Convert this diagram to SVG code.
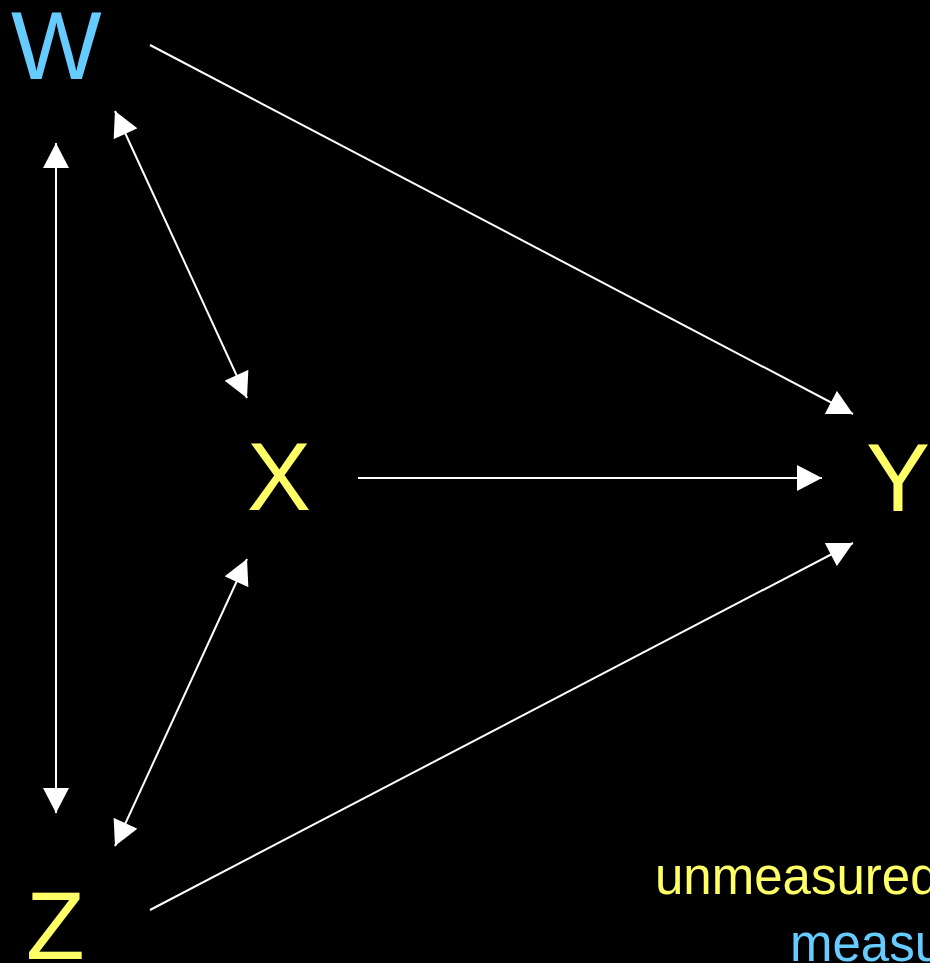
<svg xmlns="http://www.w3.org/2000/svg" width="930" height="963" viewBox="0 0 930 963">
<style>
.bg{fill:#000}
.lbl{font-family:"Liberation Sans",Arial,sans-serif;font-size:96px}
.small{font-family:"Liberation Sans",Arial,sans-serif;font-size:51px}
.y{fill:#FFFF66}
.b{fill:#66CCFF}
.edge{stroke:#fff;stroke-width:2;fill:none}
</style>
<defs>
<marker id="ah" markerUnits="userSpaceOnUse" markerWidth="26" markerHeight="26" viewBox="0 0 25 26" refX="25" refY="13" orient="auto-start-reverse">
<path d="M0,0 L25,13 L0,26 Z" fill="#fff"/>
</marker>
</defs>
<rect class="bg" x="0" y="0" width="930" height="963"/>
<g id="connectors">
<line class="edge" x1="150" y1="45" x2="853" y2="414" marker-end="url(#ah)"/>
<line class="edge" x1="115" y1="111" x2="247" y2="398" marker-start="url(#ah)" marker-end="url(#ah)"/>
<line class="edge" x1="56" y1="143" x2="56" y2="813" marker-start="url(#ah)" marker-end="url(#ah)"/>
<line class="edge" x1="358" y1="478" x2="822" y2="478" marker-end="url(#ah)"/>
<line class="edge" x1="247" y1="559" x2="115" y2="846" marker-start="url(#ah)" marker-end="url(#ah)"/>
<line class="edge" x1="150" y1="910" x2="853" y2="543" marker-end="url(#ah)"/>
</g>
<g id="W"><text class="lbl b" x="11" y="79">W</text></g>
<g id="X"><text class="lbl y" x="247" y="510">X</text></g>
<g id="Y"><text class="lbl y" x="866" y="511">Y</text></g>
<g id="Z"><text class="lbl y" x="26" y="959">Z</text></g>
<g id="legend">
<text class="small y" x="655" y="894">unmeasured</text>
<text class="small b" x="790" y="961">measured</text>
</g>
</svg>
